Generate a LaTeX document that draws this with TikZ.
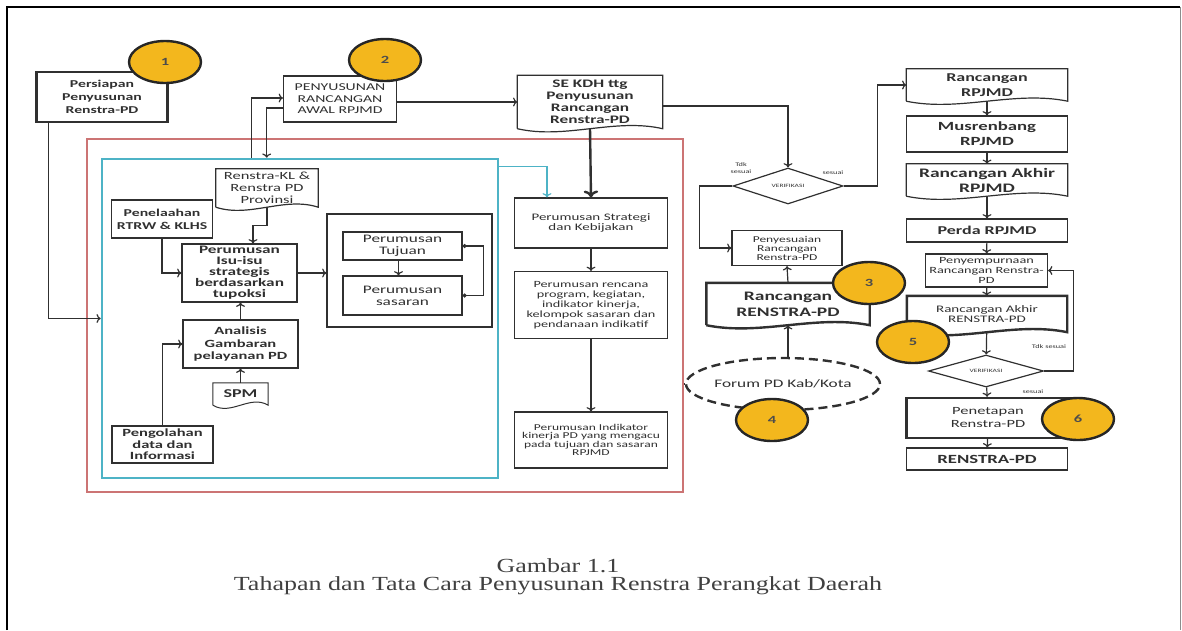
\documentclass[tikz,border=0pt]{standalone}
\usepackage{fontspec}
\setmainfont{Carlito}[FakeStretch=1.5]
\newfontfamily\capfont{Liberation Serif}[FakeStretch=1.3]
\usetikzlibrary{shapes.geometric,calc,arrows.meta}

\definecolor{badgeyellow}{HTML}{F3B71D}
\definecolor{framered}{HTML}{CC7474}
\definecolor{framecyan}{HTML}{4DB3C6}
\definecolor{inkgray}{HTML}{303030}

\newcommand{\fs}[2]{\fontsize{#1}{#2}\selectfont}

% document shape with wavy bottom, drawn round a node
\newcommand{\docshape}[2][]{%
  \draw[draw=inkgray, line width=1.2pt, #1] (#2.south west) -- (#2.north west) -- (#2.north east) -- (#2.south east)
    .. controls ($(#2.south east)!0.33!(#2.south west)+(0,-11)$) and ($(#2.south east)!0.67!(#2.south west)+(0,11)$) .. (#2.south west);}

\tikzset{
  box/.style={draw=inkgray, line width=1.2pt, align=center, inner sep=1pt, text=inkgray},
  thickbox/.style={box, line width=2.4pt},
  docbox/.style={align=center, inner sep=1pt, text=inkgray},
  badge/.style={ellipse, draw=black!85, line width=2.4pt, fill=badgeyellow, minimum width=72, minimum height=42,
    inner sep=0pt, font=\fs{11}{11}\bfseries, text=black!70},
  check/.style={diamond, draw=inkgray, line width=1.2pt, inner sep=0pt, aspect=3.5, font=\fs{5}{5}, text=inkgray},
  flow/.style={->, line width=1.2pt, draw=inkgray},
  note/.style={font=\fs{5.5}{6.5}, text=inkgray, align=center, inner sep=0pt},
}

\begin{document}
\begin{tikzpicture}[x=1pt,y=-1pt]
\useasboundingbox (0,0) rectangle (1182,630);

% page frame
\draw[black, line width=2.5pt] (7,630) -- (7,7) -- (1180,7);
\draw[black!45, line width=1pt] (1180,7) -- (1180,630);

% frames
\node[draw=framered, line width=1.5pt, minimum width=596, minimum height=353, inner sep=0pt] (redframe) at (385,315.5) {};
\node[draw=framecyan, line width=2.6pt, minimum width=396, minimum height=319, inner sep=0pt] (cyanframe) at (300,318.5) {};

% top row
\node[thickbox, minimum width=131, minimum height=50, font=\fs{10.5}{13}\bfseries] (persiapan) at (102,97) {Persiapan\\Penyusunan\\Renstra-PD};
\node[box, minimum width=113, minimum height=46, font=\fs{10.5}{11.5}] (awal) at (340,99) {PENYUSUNAN\\RANCANGAN\\AWAL RPJMD};
\node[docbox, minimum width=145, minimum height=53, font=\fs{11.5}{12}\bfseries] (sekdh) at (590,102) {SE KDH ttg\\Penyusunan\\Rancangan\\Renstra-PD};
\docshape{sekdh}

% cyan block
\node[docbox, minimum width=102, minimum height=38, font=\fs{11}{12}] (renstrakl) at (267,188) {Renstra-KL \&\\Renstra PD\\Provinsi};
\docshape{renstrakl}
\node[box, minimum width=101, minimum height=38, font=\fs{10.5}{13}\bfseries] (penelaahan) at (162,219) {Penelaahan\\RTRW \& KLHS};
\node[box, minimum width=115, minimum height=58, font=\fs{11.5}{11}\bfseries] (isu) at (239.5,273) {Perumusan\\Isu-isu\\strategis\\berdasarkan\\tupoksi};
\node[box, minimum width=115, minimum height=48, font=\fs{11}{12.5}\bfseries] (analisis) at (240.5,344) {Analisis\\Gambaran\\pelayanan PD};
\node[docbox, minimum width=55, minimum height=22, font=\fs{12}{12}\bfseries] (spm) at (240.5,394) {SPM};
\docshape[line width=1pt]{spm}
\node[box, minimum width=101, minimum height=37, font=\fs{11}{11.5}\bfseries] (pengolahan) at (162.5,444.5) {Pengolahan\\data dan\\Informasi};
\node[box, minimum width=165, minimum height=113, inner sep=0pt] (rumus) at (409.5,270.5) {};
\node[box, minimum width=119, minimum height=28, font=\fs{11.5}{12}] (tujuan) at (402.5,246) {Perumusan\\Tujuan};
\node[box, minimum width=119, minimum height=39, font=\fs{11.5}{12}] (sasaran) at (402.5,295.5) {Perumusan\\sasaran};

% strategy column
\node[box, minimum width=153, minimum height=50, font=\fs{10}{10.5}] (strategi) at (591,223) {Perumusan Strategi\\dan Kebijakan};
\node[box, minimum width=153, minimum height=67, font=\fs{9.5}{10}] (rencana) at (591,305) {Perumusan rencana\\program, kegiatan,\\indikator kinerja,\\kelompok sasaran dan\\pendanaan indikatif};
\node[box, minimum width=153, minimum height=56, font=\fs{9}{8.5}] (indikator) at (591,440) {Perumusan Indikator\\kinerja PD yang mengacu\\pada tujuan dan sasaran\\RPJMD};

% verification, middle
\node[check, minimum width=110, minimum height=36] (ver1) at (788,186) {VERIFIKASI};
\node[box, minimum width=110, minimum height=35, font=\fs{9}{9}] (penyesuaian) at (787,248) {Penyesuaian\\Rancangan\\Renstra-PD};
\node[docbox, minimum width=163, minimum height=42, font=\fs{13}{16}\bfseries] (rancren) at (788,304) {Rancangan\\RENSTRA-PD};
\docshape[line width=2.4pt]{rancren}
\node[ellipse, draw=inkgray, line width=2.4pt, dash pattern=on 9pt off 5pt, minimum width=173, minimum height=52,
  inner sep=0pt, font=\fs{11.5}{12}, text=inkgray] (forum) at (783,384) {Forum PD Kab/Kota};
\node[note] (tdk1) at (741,168) {Tdk\\sesuai};
\node[note] (ses1) at (833,173) {sesuai};

% right column
\node[docbox, minimum width=161, minimum height=32, font=\fs{12}{15}\bfseries] (rrpjmd) at (987,85) {Rancangan\\RPJMD};
\docshape{rrpjmd}
\node[box, minimum width=161, minimum height=36, font=\fs{12.5}{15}\bfseries] (musren) at (987,134) {Musrenbang\\RPJMD};
\node[docbox, minimum width=161, minimum height=32, font=\fs{13}{15}\bfseries] (rakhir) at (987,180) {Rancangan Akhir\\RPJMD};
\docshape{rakhir}
\node[box, minimum width=161, minimum height=23, font=\fs{12}{12}\bfseries] (perda) at (987,230.5) {Perda RPJMD};
\node[box, minimum width=122, minimum height=33, font=\fs{9.5}{10}] (penyemp) at (986.5,270.5) {Penyempurnaan\\Rancangan Renstra-\\PD};
\node[docbox, minimum width=160, minimum height=36, font=\fs{10}{10}] (rakhirren) at (987,314) {Rancangan Akhir\\RENSTRA-PD};
\docshape[line width=2.4pt]{rakhirren}
\node[check, minimum width=115, minimum height=32] (ver2) at (986,371) {VERIFIKASI};
\node[thickbox, minimum width=163, minimum height=40, font=\fs{11}{13}] (penetapan) at (988,418) {Penetapan\\Renstra-PD};
\node[box, minimum width=161, minimum height=22, font=\fs{12.5}{12.5}\bfseries] (renstra) at (987,459) {RENSTRA-PD};
\node[note] (tdk2) at (1049,347) {Tdk sesuai};
\node[note] (ses2) at (1033,392) {sesuai};

% connectors
\draw[flow] ([xshift=13]persiapan.south west) |- (cyanframe.west);
\draw[flow] ([xshift=151]cyanframe.north west) |- ([yshift=1]awal.west);
\draw[flow] ([yshift=-9]awal.west) -| ([xshift=166]cyanframe.north west);
\draw[flow] (awal.east |- sekdh.west) -- (sekdh.west);
\draw[flow] ([yshift=-4]sekdh.east) -| (ver1.north);
\draw[flow, line width=2.4pt] (sekdh.south) -- (strategi.north);
\draw[flow, draw=framecyan] ([yshift=-9]cyanframe.north east) -| ([xshift=-44]strategi.north);
\draw[flow] (strategi) -- (rencana);
\draw[flow] (rencana) -- (indikator);

\draw[flow] (renstrakl.south) -- ++(0,18) -| ([xshift=13.5]isu.north);
\draw[flow] (penelaahan.south) |- (isu.west);
\draw[flow] (analisis.north) -- (analisis.north |- isu.south);
\draw[flow] (spm.north) -- (analisis.south);
\draw[flow] (pengolahan.north) |- (analisis.west);
\draw[flow] (isu.east) -- (isu.east -| rumus.west);
\draw[flow] ([xshift=-4]tujuan.south) -- ([xshift=-4]sasaran.north);
\draw[{Circle[length=4pt]}-{Circle[length=4pt]}, line width=1.2pt, draw=inkgray] (tujuan.east) -- ++(21,0) |- (sasaran.east);

\draw[flow] (ver1.east) -- ++(34,0) |- (rrpjmd.west);
\draw[flow] (ver1.west) -- ++(-33,0) |- (penyesuaian.west);
\draw[flow] (rancren.north) -- (penyesuaian.south);
\draw[flow] (rancren.south |- forum.north) -- (rancren.south);
\draw[line width=1.2pt, draw=inkgray] (redframe.east |- forum.west) -- (forum.west);

\draw[flow] (rrpjmd) -- (musren);
\draw[flow] (musren) -- (rakhir);
\draw[flow] (rakhir) -- (perda);
\draw[flow] (perda) -- (penyemp);
\draw[flow] (penyemp) -- (rakhirren);
\draw[flow] (rakhirren) -- (ver2);
\draw[flow] (ver2) -- (penetapan);
\draw[flow] (penetapan) -- (renstra);
\draw[flow] (ver2.east) -- ++(29,0) |- (penyemp.east);

% numbered steps
\node[badge] (c1) at (165,62) {1};
\node[badge] (c2) at (385,60) {2};
\node[badge] (c3) at (869,283) {3};
\node[badge] (c4) at (772,420) {4};
\node[badge] (c5) at (913,342) {5};
\node[badge] (c6) at (1078,419) {6};

% caption
\node[font=\capfont\fs{20}{22}, text=black!75] (capnum) at (558,566) {Gambar 1.1};
\node[font=\capfont\fs{20}{22}, text=black!75] (captitle) at (558,586) {Tahapan dan Tata Cara Penyusunan Renstra Perangkat Daerah};

\end{tikzpicture}
\end{document}
